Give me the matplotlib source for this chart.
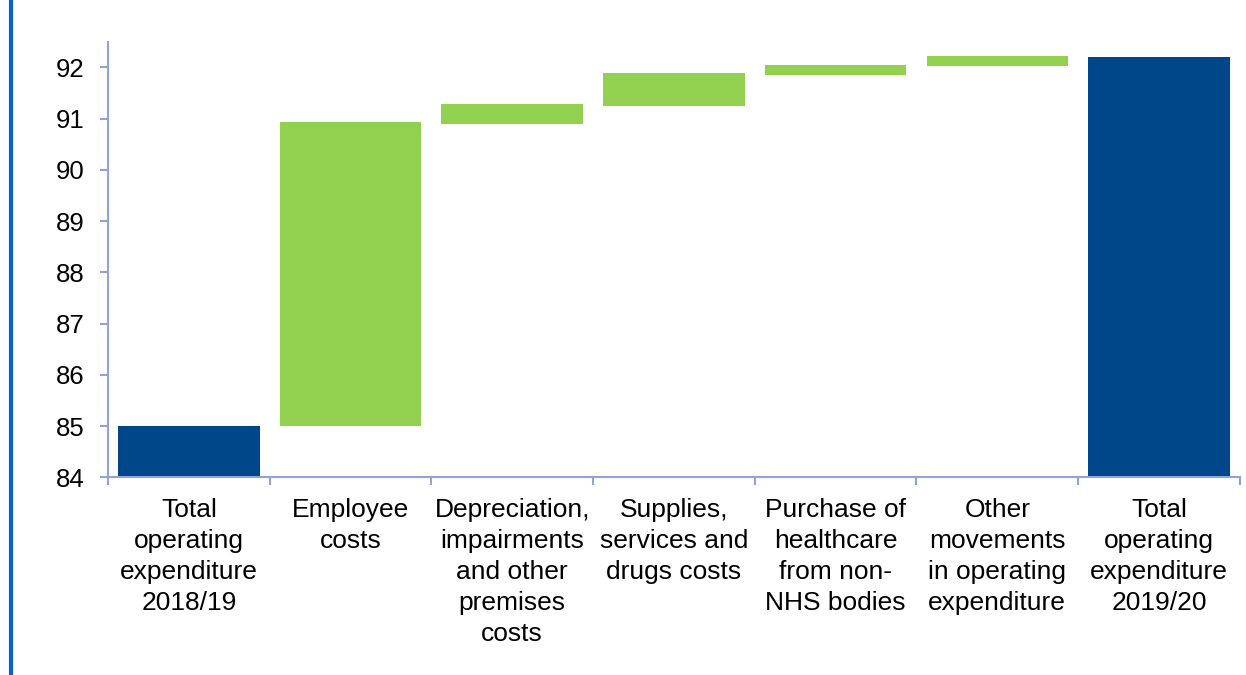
import matplotlib.pyplot as plt
from matplotlib.lines import Line2D

# Categories and values (GBP bn)
categories = [
    'Total\noperating\nexpenditure\n2018/19',
    'Employee\ncosts',
    'Depreciation,\nimpairments\nand other\npremises\ncosts',
    'Supplies,\nservices and\ndrugs costs',
    'Purchase of\nhealthcare\nfrom non-\nNHS bodies',
    'Other\nmovements\nin operating\nexpenditure',
    'Total\noperating\nexpenditure\n2019/20',
]
total_start = 85.0
total_end = 92.21
step_low = [85.0, 90.90, 91.24, 91.85, 92.02]
step_high = [90.93, 91.28, 91.88, 92.05, 92.23]

NAVY = '#00468b'
GREEN = '#92d050'
AXIS = '#8ea4d2'


def main():
    plt.rcParams['font.family'] = ['Liberation Sans', 'DejaVu Sans']

    fig = plt.figure(figsize=(12.46, 6.75), dpi=100)
    ax = fig.add_axes([0.0867, 0.2929, 0.9083, 0.6453])

    base = 84
    width = 0.875
    n = len(categories)
    xs = list(range(n))

    # Totals
    ax.bar(xs[0], total_start - base, bottom=base, width=width, color=NAVY, zorder=2)
    ax.bar(xs[-1], total_end - base, bottom=base, width=width, color=NAVY, zorder=2)

    # Movements
    for i, (lo, hi) in enumerate(zip(step_low, step_high)):
        ax.bar(xs[i + 1], hi - lo, bottom=lo, width=width, color=GREEN, zorder=2)

    ax.set_xlim(-0.5, n - 0.5)
    ax.set_ylim(84, 92.5)
    ax.set_yticks(range(84, 93))

    ax.set_xticks(xs)
    ax.set_xticklabels(categories, fontsize=19, linespacing=1.37)
    ax.set_xticks([x - 0.5 for x in range(n + 1)], minor=True)
    ax.tick_params(axis='x', which='major', length=0, pad=15)
    ax.tick_params(axis='x', which='minor', length=6, width=1.5, color=AXIS, direction='out')
    ax.tick_params(axis='y', labelsize=18.5, length=6, width=1.5, color=AXIS, pad=11)

    for side in ['top', 'right']:
        ax.spines[side].set_visible(False)
    for side in ['left', 'bottom']:
        ax.spines[side].set_color(AXIS)
        ax.spines[side].set_linewidth(1.5)

    # blue page border on the left
    fig.add_artist(Line2D([0.0085, 0.0085], [0, 1], color='#0563c1', linewidth=3,
                          transform=fig.transFigure))

    fig.savefig('out.png', dpi=100)


if __name__ == '__main__':
    main()
